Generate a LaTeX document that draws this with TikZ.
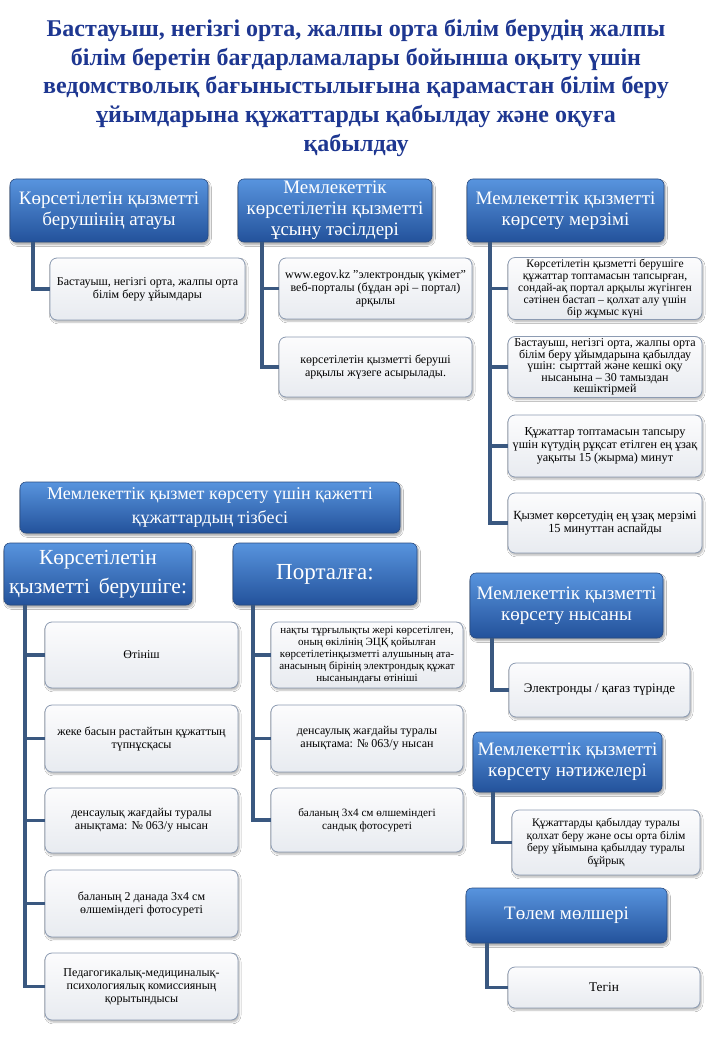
\documentclass[tikz,border=0pt]{standalone}
\usepackage{fontspec}
\setmainfont{Liberation Serif}
\usetikzlibrary{shadows.blur}
\definecolor{titleblue}{RGB}{30,55,145}
\definecolor{hdrtop}{RGB}{88,148,222}
\definecolor{hdrbot}{RGB}{35,82,155}
\definecolor{hdredge}{RGB}{40,75,130}
\definecolor{kidedge}{RGB}{140,155,178}
\definecolor{kidtop}{RGB}{252,252,253}
\definecolor{kidbot}{RGB}{232,235,240}
\definecolor{connc}{RGB}{58,88,128}
\tikzset{
  hdr/.style={rectangle, rounded corners=6pt, top color=hdrtop, bottom color=hdrbot,
    draw=hdredge, line width=0.6pt, text=white, align=center, inner sep=2pt, outer sep=0pt,
    blur shadow={shadow xshift=1.5pt, shadow yshift=-2.5pt, shadow blur steps=6, shadow opacity=35}},
  kid/.style={rectangle, rounded corners=7pt, top color=kidtop, bottom color=kidbot,
    draw=kidedge, line width=0.8pt, text=black, align=center, inner sep=2pt, outer sep=0pt,
    font=\fontsize{12}{13}\selectfont,
    blur shadow={shadow xshift=1.2pt, shadow yshift=-2pt, shadow blur steps=5, shadow opacity=30}},
  conn/.style={draw=connc, line width=3.5pt, line cap=butt, line join=miter},
  hdrfont/.style={font=\fontsize{19}{21}\selectfont},
}
\begin{document}
\begin{tikzpicture}[x=1pt,y=-1pt]
\useasboundingbox (0,0) rectangle (720,1040);
\fill[white] (0,0) rectangle (720,1040);

% title
\node[text=titleblue, align=center, font=\fontsize{24}{28.8}\bfseries\selectfont] (title) at (356,88)
 {Бастауыш, негізгі орта, жалпы орта білім берудің жалпы\\
  білім беретін бағдарламалары бойынша оқыту үшін\\
  ведомстволық бағыныстылығына қарамастан білім беру\\
  ұйымдарына құжаттарды қабылдау және оқуға\\
  қабылдау};

% ===== top row =====
\node[hdr, hdrfont, minimum width=198, minimum height=63] (h1) at (109,210.5)
 {Көрсетілетін қызметті\\ берушінің атауы};
\node[hdr, hdrfont, minimum width=194, minimum height=63] (h2) at (335,210.5)
 {Мемлекеттік\\ көрсетілетін қызметті\\ ұсыну тәсілдері};
\node[hdr, hdrfont, minimum width=197, minimum height=63] (h3) at (565.5,210.5)
 {Мемлекеттік қызметті\\ көрсету мерзімі};

\coordinate (t1) at (33,242);
\coordinate (t2) at (262,242);
\coordinate (t3) at (490,242);

\node[kid, minimum width=195, minimum height=62] (c1) at (147.5,289)
 {Бастауыш, негізгі орта, жалпы орта\\ білім беру ұйымдары};

\node[kid, minimum width=193, minimum height=61] (c2a) at (375.5,288.5)
 {www.egov.kz "электрондық үкімет"\\ веб-порталы (бұдан әрі – портал)\\ арқылы};
\node[kid, minimum width=193, minimum height=60] (c2b) at (375.5,367)
 {көрсетілетін қызметті беруші\\ арқылы жүзеге асырылады.};

\node[kid, font=\fontsize{11.6}{11.8}\selectfont, minimum width=194, minimum height=61] (c3a) at (605,288.5)
 {Көрсетілетін қызметті берушіге\\ құжаттар топтамасын тапсырған,\\ сондай-ақ портал арқылы жүгінген\\ сәтінен бастап – қолхат алу үшін\\ бір жұмыс күні};
\node[kid, font=\fontsize{12}{11.6}\selectfont, minimum width=194, minimum height=60] (c3b) at (605,367)
 {Бастауыш, негізгі орта, жалпы орта\\ білім беру ұйымдарына қабылдау\\ үшін: сырттай және кешкі оқу\\ нысанына – 30 тамыздан\\ кешіктірмей};
\node[kid, font=\fontsize{12.2}{13}\selectfont, minimum width=194, minimum height=62] (c3c) at (605,446)
 {Құжаттар топтамасын тапсыру\\ үшін күтудің рұқсат етілген ең ұзақ\\ уақыты 15 (жырма) минут};
\node[kid, font=\fontsize{12.4}{13.5}\selectfont, minimum width=194, minimum height=60] (c3d) at (605,523)
 {Қызмет көрсетудің ең ұзақ мерзімі\\ 15 минуттан аспайды};

\draw[conn] (t1) |- (c1.west);
\draw[conn] (t2) |- (c2b.west);
\draw[conn] (t2 |- c2a.west) -- (c2a.west);
\draw[conn] (t3) |- (c3d.west);
\draw[conn] (t3 |- c3a.west) -- (c3a.west);
\draw[conn] (t3 |- c3b.west) -- (c3b.west);
\draw[conn] (t3 |- c3c.west) -- (c3c.west);

% ===== documents list =====
\node[hdr, font=\fontsize{18}{24}\selectfont, minimum width=380, minimum height=51] (sec) at (210,507.5)
 {Мемлекеттік қызмет көрсету үшін қажетті\\ құжаттардың тізбесі};
\node[hdr, font=\fontsize{21.5}{29}\selectfont, minimum width=188, minimum height=62] (h4) at (98,574)
 {Көрсетілетін\\ қызметті\, берушіге:};
\node[hdr, font=\fontsize{23}{26}\selectfont, minimum width=184, minimum height=62] (h5) at (325,574)
 {Порталға:};

\coordinate (t4) at (25,605);
\coordinate (t5) at (253,605);

\node[kid, minimum width=193, minimum height=66] (d1) at (141.5,655) {Өтініш};
\node[kid, minimum width=193, minimum height=67] (d2) at (141.5,738.5)
 {жеке басын растайтын құжаттың\\ түпнұсқасы};
\node[kid, minimum width=193, minimum height=65] (d3) at (141.5,820.5)
 {денсаулық жағдайы туралы\\ анықтама: № 063/у нысан};
\node[kid, minimum width=193, minimum height=67] (d4) at (141.5,903.5)
 {баланың 2 данада 3х4 см\\ өлшеміндегі фотосуреті};
\node[kid, minimum width=193, minimum height=67] (d5) at (141.5,986.5)
 {Педагогикалық-медициналық-\\ психологиялық комиссияның\\ қорытындысы};

\draw[conn] (t4) |- (d5.west);
\draw[conn] (t4 |- d1.west) -- (d1.west);
\draw[conn] (t4 |- d2.west) -- (d2.west);
\draw[conn] (t4 |- d3.west) -- (d3.west);
\draw[conn] (t4 |- d4.west) -- (d4.west);

\node[kid, font=\fontsize{11}{12}\selectfont, minimum width=192, minimum height=66] (p1) at (367,655)
 {нақты тұрғылықты жері көрсетілген,\\ оның өкілінің ЭЦҚ қойылған\\ көрсетілетінқызметті алушының ата-\\ анасының бірінің электрондық құжат\\ нысанындағы өтініші};
\node[kid, minimum width=192, minimum height=67] (p2) at (367,738.5)
 {денсаулық жағдайы туралы\\ анықтама: № 063/у нысан};
\node[kid, font=\fontsize{11.2}{13}\selectfont, minimum width=192, minimum height=64] (p3) at (367,820)
 {баланың 3х4 см өлшеміндегі\\ сандық фотосуреті};

\draw[conn] (t5) |- (p3.west);
\draw[conn] (t5 |- p1.west) -- (p1.west);
\draw[conn] (t5 |- p2.west) -- (p2.west);

% ===== lower right =====
\node[hdr, hdrfont, minimum width=193, minimum height=65] (h6) at (566.5,605.5)
 {Мемлекеттік қызметті\\ көрсету нысаны};
\node[kid, font=\fontsize{13}{15}\selectfont, minimum width=181, minimum height=54] (e1) at (599.5,690)
 {Электронды / қағаз түрінде};
\coordinate (t6) at (492,638);
\draw[conn] (t6) |- (e1.west);

\node[hdr, hdrfont, minimum width=189, minimum height=60] (h7) at (567.5,762)
 {Мемлекеттік қызметті\\ көрсету нәтижелері};
\node[kid, font=\fontsize{11.5}{12.5}\selectfont, minimum width=188, minimum height=65] (r1) at (606,842.5)
 {Құжаттарды қабылдау туралы\\ қолхат беру және осы орта білім\\ беру ұйымына қабылдау туралы\\ бұйрық};
\coordinate (t7) at (493,792);
\draw[conn] (t7) |- (r1.west);

\node[hdr, font=\fontsize{19}{22}\selectfont, minimum width=201, minimum height=55] (h8) at (566.5,915.5)
 {Төлем мөлшері};
\node[kid, font=\fontsize{13.3}{15}\selectfont, minimum width=192, minimum height=41] (g1) at (604,987.5)
 {Тегін};
\coordinate (t8) at (487,943);
\draw[conn] (t8) |- (g1.west);
\end{tikzpicture}
\end{document}
